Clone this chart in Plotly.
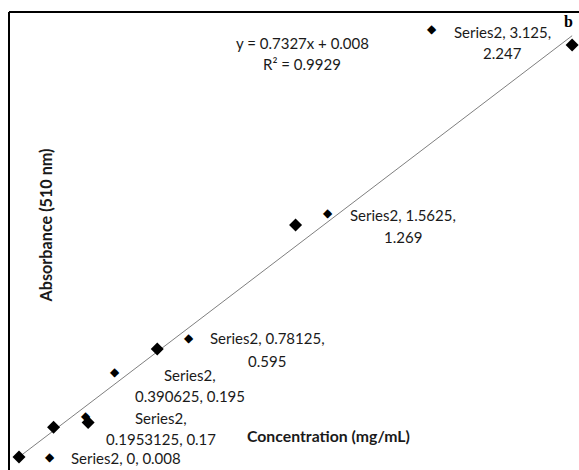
import plotly.graph_objects as go

# ---- data ----
conc = [0, 0.1953125, 0.390625, 0.78125, 1.5625, 3.125]
absorb = [0.008, 0.17, 0.195, 0.595, 1.269, 2.247]
series_name = "Series2"
slope = 0.7327
intercept = 0.008
r2 = 0.9929
x_title = "Concentration (mg/mL)"
y_title = "Absorbance (510 nm)"
panel_letter = "b"

W, H = 579, 470
# pixel mapping of the (hidden) axes
X0_PX, X_SCALE = 19, 177.0
Y0_PX, Y_SCALE = 458.5, 184.0
x_range = [(0 - X0_PX) / X_SCALE, (W - X0_PX) / X_SCALE]
y_range = [(Y0_PX - H) / Y_SCALE, (Y0_PX - 0) / Y_SCALE]

def px(x, y):
    return x / W, 1 - y / H

FONT = "Lato"
FS = 15
TXT = "#1a1a1a"

fig = go.Figure()

# trendline
tx = [min(conc), max(conc)]
ty = [slope * v + intercept for v in tx]
fig.add_trace(go.Scatter(x=tx, y=ty, mode="lines",
                         line=dict(color="#7f7f7f", width=1), hoverinfo="skip"))
# data points
fig.add_trace(go.Scatter(x=conc, y=absorb, mode="markers",
                         marker=dict(symbol="diamond", size=10, color="black"),
                         name=series_name))

# data labels with legend keys (offsets in px relative to each point)
# (key_dx, key_dy, text_dx, line1_dy, line2_dy)
label_layout = [
    (31, 0, 107, 1, None),
    (32, -11, 107, -9, 12),
    (27, -51, 102, -48, -27),
    (32, -11, 110, -11, 12),
    (32, -12, 107, -10, 12),
    (-140, -16, -70, -13, 8),
]
def fmt(v):
    return ("%.7f" % v).rstrip("0").rstrip(".") if v != 0 else "0"

for i, (xv, yv) in enumerate(zip(conc, absorb)):
    kdx, kdy, tdx, l1, l2 = label_layout[i]
    full = f"{series_name}, {fmt(xv)}, {fmt(yv)}"
    if i == 0:
        lines = [(l1, full)]
    elif i in (1, 2):
        lines = [(l1, f"{series_name},"), (l2, f"{fmt(xv)}, {fmt(yv)}")]
    else:
        lines = [(l1, f"{series_name}, {fmt(xv)},"), (l2, f"{fmt(yv)}")]
    fig.add_annotation(x=xv, y=yv, xref="x", yref="y", text="◆", showarrow=False,
                       xshift=kdx, yshift=-kdy, font=dict(size=12, color="black", family="DejaVu Sans"))
    for dy, t in lines:
        fig.add_annotation(x=xv, y=yv, xref="x", yref="y", text=t, showarrow=False,
                           xshift=tdx, yshift=-dy, font=dict(size=FS, color=TXT, family=FONT))

# equation
ex, ey = px(302, 32)
fig.add_annotation(x=ex, y=ey, xref="paper", yref="paper", showarrow=False,
                   text=f"y = {slope}x + {intercept}", font=dict(size=FS, color=TXT, family=FONT))
ex, ey = px(302, 53)
fig.add_annotation(x=ex, y=ey, xref="paper", yref="paper", showarrow=False,
                   text=f"R² = {r2}", font=dict(size=FS, color=TXT, family=FONT))

# axis titles
ax, ay = px(329, 447)
fig.add_annotation(x=ax, y=ay, xref="paper", yref="paper", showarrow=False,
                   text=f"<b>{x_title}</b>", font=dict(size=15.8, color=TXT, family=FONT))
ax, ay = px(34, 226)
fig.add_annotation(x=ax, y=ay, xref="paper", yref="paper", showarrow=False, textangle=-90,
                   text=f"<b>{y_title}</b>", font=dict(size=16.2, color=TXT, family=FONT))
ax, ay = px(568, 22)
fig.add_annotation(x=ax, y=ay, xref="paper", yref="paper", showarrow=False,
                   xanchor="center", yanchor="middle",
                   text=f"<b>{panel_letter}</b>", font=dict(size=16, color="black", family="Liberation Serif"))

# chart border (top and left visible)
bx, by = px(9, 12)
fig.add_shape(type="line", xref="paper", yref="paper", x0=bx, y0=by, x1=1.01, y1=by,
              line=dict(color="black", width=2))
fig.add_shape(type="line", xref="paper", yref="paper", x0=bx, y0=by, x1=bx, y1=-0.01,
              line=dict(color="black", width=2))

fig.update_layout(
    width=W, height=H, margin=dict(l=0, r=0, t=0, b=0),
    paper_bgcolor="white", plot_bgcolor="white", showlegend=False,
    xaxis=dict(range=x_range, visible=False, fixedrange=True),
    yaxis=dict(range=y_range, visible=False, fixedrange=True),
)
fig.write_html("out.html")
